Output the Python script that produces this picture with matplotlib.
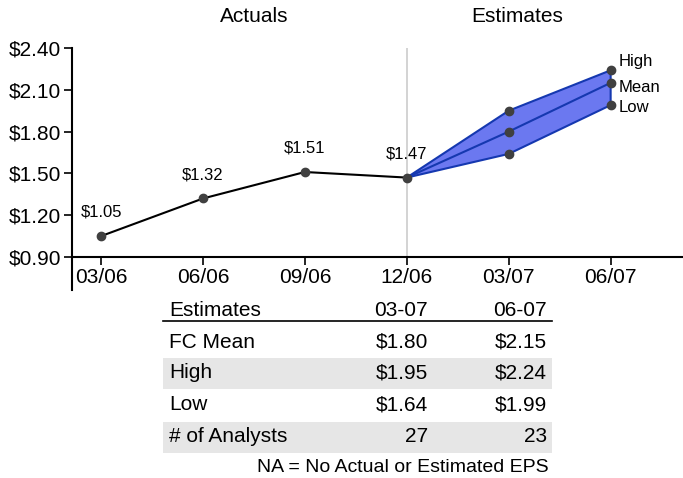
import matplotlib.pyplot as plt
from matplotlib.patches import Rectangle, Polygon

plt.rcParams['font.family'] = ['Liberation Sans', 'DejaVu Sans']

periods = ['03/06', '06/06', '09/06', '12/06', '03/07', '06/07']
actuals = [1.05, 1.32, 1.51, 1.47]
est_high = [1.47, 1.95, 2.24]
est_mean = [1.47, 1.80, 2.15]
est_low = [1.47, 1.64, 1.99]
est_labels = ['High', 'Mean', 'Low']
yticks = [0.90, 1.20, 1.50, 1.80, 2.10, 2.40]

table_header = ['Estimates', '03-07', '06-07']
table_rows = [
    ['FC Mean', '$1.80', '$2.15'],
    ['High', '$1.95', '$2.24'],
    ['Low', '$1.64', '$1.99'],
    ['# of Analysts', '27', '23'],
]
footnote = 'NA = No Actual or Estimated EPS'

W, H = 683, 478
fig = plt.figure(figsize=(W / 100, H / 100), dpi=100)
ax = fig.add_axes([72 / W, 1 - 257 / H, 1 - 72 / W, (257 - 48) / H])

blue_fill = '#6b78f0'
blue_edge = '#1538b0'
dot = '#404040'

ax.axvline(3, color='#cccccc', lw=1.2, zorder=1)

ix_a = list(range(len(actuals)))
ax.plot(ix_a, actuals, color='black', lw=1.5, zorder=3)
ax.plot(ix_a, actuals, 'o', color=dot, ms=6, zorder=5)
for i, v in zip(ix_a, actuals):
    ax.annotate(f'${v:.2f}', (i, v), xytext=(0, 17), textcoords='offset points',
                ha='center', va='center', fontsize=12)

ix_e = [3, 4, 5]
poly = list(zip(ix_e, est_high)) + list(zip(ix_e[::-1], est_low[::-1]))
ax.add_patch(Polygon(poly, closed=True, facecolor=blue_fill, edgecolor=blue_edge,
                     lw=1.5, zorder=2))
ax.plot(ix_e, est_mean, color=blue_edge, lw=1.5, zorder=3)
for s in (est_high, est_mean, est_low):
    ax.plot(ix_e[1:], s[1:], 'o', color=dot, ms=6, zorder=5)
offs = [6, -3, -1.5]
for lab, s, o in zip(est_labels, (est_high, est_mean, est_low), offs):
    ax.annotate(lab, (ix_e[-1], s[-1]), xytext=(6, o), textcoords='offset points',
                ha='left', va='center', fontsize=12)

ax.set_xlim(-0.285, 5.71)
ax.set_ylim(0.9, 2.4)
ax.set_xticks(range(len(periods)))
ax.set_xticklabels(periods)
ax.set_yticks(yticks)
ax.set_yticklabels([f'${v:.2f}' for v in yticks])
ax.tick_params(labelsize=15, length=6, width=1.2, direction='out', pad=2)
for sp in ('top', 'right'):
    ax.spines[sp].set_visible(False)
for sp in ('left', 'bottom'):
    ax.spines[sp].set_linewidth(1.5)
ax.plot([0, 0], [0, -33 / 209], transform=ax.transAxes, color='black', lw=1.5,
        clip_on=False)

fig.text(254 / W, 1 - 16 / H, 'Actuals', ha='center', va='center', fontsize=15)
fig.text(517 / W, 1 - 16 / H, 'Estimates', ha='center', va='center', fontsize=15)

# table
tx0, tx1 = 163, 552
col_x = [169, 428, 547]
row_y = [342, 373, 405, 437]
for j, t in enumerate(table_header):
    fig.text(col_x[j] / W, 1 - 310 / H, t, ha='left' if j == 0 else 'right',
             va='center', fontsize=15)
fig.add_artist(plt.Line2D([tx0 / W, tx1 / W], [1 - 321 / H] * 2, color='black', lw=1.2))
for r, (row, y) in enumerate(zip(table_rows, row_y)):
    if r % 2 == 1:
        fig.add_artist(Rectangle((tx0 / W, 1 - (y + 16) / H), (tx1 - tx0) / W, 31 / H,
                                 facecolor='#e6e6e6', edgecolor='none', zorder=0))
    for j, t in enumerate(row):
        fig.text(col_x[j] / W, 1 - y / H, t, ha='left' if j == 0 else 'right',
                 va='center', fontsize=15)
fig.text(549 / W, 1 - 467 / H, footnote, ha='right', va='center', fontsize=14)

fig.savefig('out.png', dpi=100)
